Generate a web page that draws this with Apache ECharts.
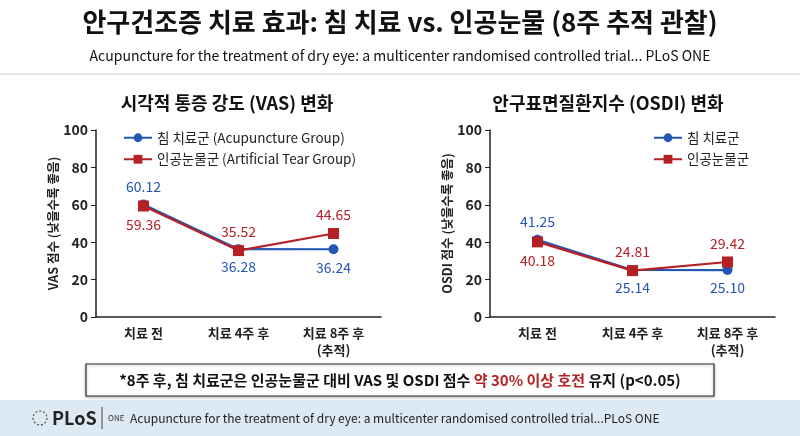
<!DOCTYPE html>
<html><head><meta charset="utf-8">
<script src="https://cdn.jsdelivr.net/npm/echarts@6/dist/echarts.min.js"></script>
<style>html,body{margin:0;padding:0;background:#fff}#c{width:800px;height:436px}</style>
</head><body><div id="c"></div>
<script>
var font = '"Noto Sans CJK KR", "Noto Sans", sans-serif';
var categories = ['치료 전', '치료 4주 후', '치료 8주 후\n(추적)'];
var vasAcu = [60.12, 36.28, 36.24];
var vasTear = [59.36, 35.52, 44.65];
var osdiAcu = [41.25, 25.14, 25.10];
var osdiTear = [40.18, 24.81, 29.42];
var blue = '#2456b4', red = '#b52025';

var chart = echarts.init(document.getElementById('c'));

function xAx(i) {
    return { type: 'category', gridIndex: i, data: categories,
        axisLine: { lineStyle: { color: '#222', width: 1.5 } },
        axisTick: { alignWithLabel: true, lineStyle: { color: '#222' } },
        axisLabel: { color: '#222', fontSize: 13, fontWeight: 'bold', fontFamily: font, lineHeight: 17 } };
}
function yAx(i, name) {
    return { type: 'value', gridIndex: i, min: 0, max: 100, interval: 20,
        name: name, nameLocation: 'middle', nameGap: 32,
        nameTextStyle: { color: '#222', fontSize: 12.5, fontWeight: 'bold', fontFamily: font },
        axisLine: { show: true, lineStyle: { color: '#222', width: 1.5 } },
        axisTick: { show: true, lineStyle: { color: '#222' } },
        splitLine: { show: false },
        axisLabel: { color: '#222', fontSize: 14, fontWeight: 'bold', fontFamily: font } };
}
function ser(name, data, i, color, sym, pos) {
    return { name: name, type: 'line', xAxisIndex: i, yAxisIndex: i,
        data: data.map(function (v, k) { return { value: v, label: { position: pos[k] } }; }),
        symbol: sym, symbolSize: sym === 'rect' ? 11 : 10,
        lineStyle: { color: color, width: 2.2 }, itemStyle: { color: color },
        label: { show: true, color: color, fontSize: 14, fontFamily: font, distance: 6,
            formatter: function (p) { return p.value.toFixed(2); } }
    };
}

var option = {
    backgroundColor: '#fff',
    title: [
        { text: '안구건조증 치료 효과: 침 치료 vs. 인공눈물 (8주 추적 관찰)', left: 'center', top: 4,
          textStyle: { fontSize: 26, fontWeight: 'bold', color: '#111', fontFamily: font } },
        { text: 'Acupuncture for the treatment of dry eye: a multicenter randomised controlled trial... PLoS ONE', left: 'center', top: 44,
          textStyle: { fontSize: 14, fontWeight: 'normal', color: '#111', fontFamily: font } },
        { text: '시각적 통증 강도 (VAS) 변화', left: 222, textAlign: 'center', top: 89,
          textStyle: { fontSize: 18, fontWeight: 'bold', color: '#111', fontFamily: font } },
        { text: '안구표면질환지수 (OSDI) 변화', left: 603, textAlign: 'center', top: 89,
          textStyle: { fontSize: 18, fontWeight: 'bold', color: '#111', fontFamily: font } }
    ],
    legend: [
        { data: ['침 치료군 (Acupuncture Group)', '인공눈물군 (Artificial Tear Group)'],
          orient: 'vertical', left: 118, top: 126, itemGap: 8, itemWidth: 28, itemHeight: 11,
          textStyle: { fontSize: 13.5, color: '#222', fontFamily: font } },
        { data: ['침 치료군', '인공눈물군'],
          orient: 'vertical', left: 648, top: 126, itemGap: 8, itemWidth: 28, itemHeight: 11,
          textStyle: { fontSize: 13.5, color: '#222', fontFamily: font } }
    ],
    grid: [
        { left: 96, width: 285, top: 130, height: 187 },
        { left: 490, width: 285, top: 130, height: 187 }
    ],
    xAxis: [xAx(0), xAx(1)],
    yAxis: [yAx(0, 'VAS 점수 (낮을수록 좋음)'), yAx(1, 'OSDI 점수 (낮을수록 좋음)')],
    series: [
        ser('침 치료군 (Acupuncture Group)', vasAcu, 0, blue, 'circle', ['top', 'bottom', 'bottom']),
        ser('인공눈물군 (Artificial Tear Group)', vasTear, 0, red, 'rect', ['bottom', 'top', 'top']),
        ser('침 치료군', osdiAcu, 1, blue, 'circle', ['top', 'bottom', 'bottom']),
        ser('인공눈물군', osdiTear, 1, red, 'rect', ['bottom', 'top', 'top'])
    ],
    graphic: [
        { type: 'line', shape: { x1: 0, y1: 74, x2: 800, y2: 74 }, style: { stroke: '#ccc', lineWidth: 1 } },
        { type: 'rect', shape: { x: 86, y: 364, width: 628, height: 32 }, style: { fill: '#fff', stroke: '#333', lineWidth: 1.2, shadowBlur: 3, shadowColor: 'rgba(0,0,0,0.3)', shadowOffsetY: 1 } },
        { type: 'text', x: 400, y: 380, style: { rich: { a: { fontSize: 15, fontWeight: 'bold', fill: '#111', fontFamily: font }, r: { fontSize: 15, fontWeight: 'bold', fill: red, fontFamily: font } },
            text: '{a|*8주 후, 침 치료군은 인공눈물군 대비 VAS 및 OSDI 점수 }{r|약 30% 이상 호전}{a| 유지 (p<0.05)}', align: 'center', verticalAlign: 'middle' } },
        { type: 'rect', z: -1, shape: { x: 0, y: 400, width: 800, height: 36 }, style: { fill: '#dde9f3' } },
        { type: 'circle', shape: { cx: 40, cy: 418, r: 7 }, style: { fill: 'none', stroke: '#555', lineWidth: 1.2, lineDash: [2, 2] } },
        { type: 'text', x: 52, y: 418, style: { text: 'PLoS', fontSize: 18, fontWeight: 'bold', fill: '#222', fontFamily: font, verticalAlign: 'middle' } },
        { type: 'line', shape: { x1: 102, y1: 407, x2: 102, y2: 429 }, style: { stroke: '#444', lineWidth: 1 } },
        { type: 'text', x: 108, y: 418, style: { text: 'ONE', fontSize: 8, fill: '#333', fontFamily: font, verticalAlign: 'middle' } },
        { type: 'text', x: 130, y: 418, style: { text: 'Acupuncture for the treatment of dry eye: a multicenter randomised controlled trial...PLoS ONE', fontSize: 12, fill: '#222', fontFamily: font, verticalAlign: 'middle' } }
    ]
};
chart.setOption(option);
</script></body></html>
